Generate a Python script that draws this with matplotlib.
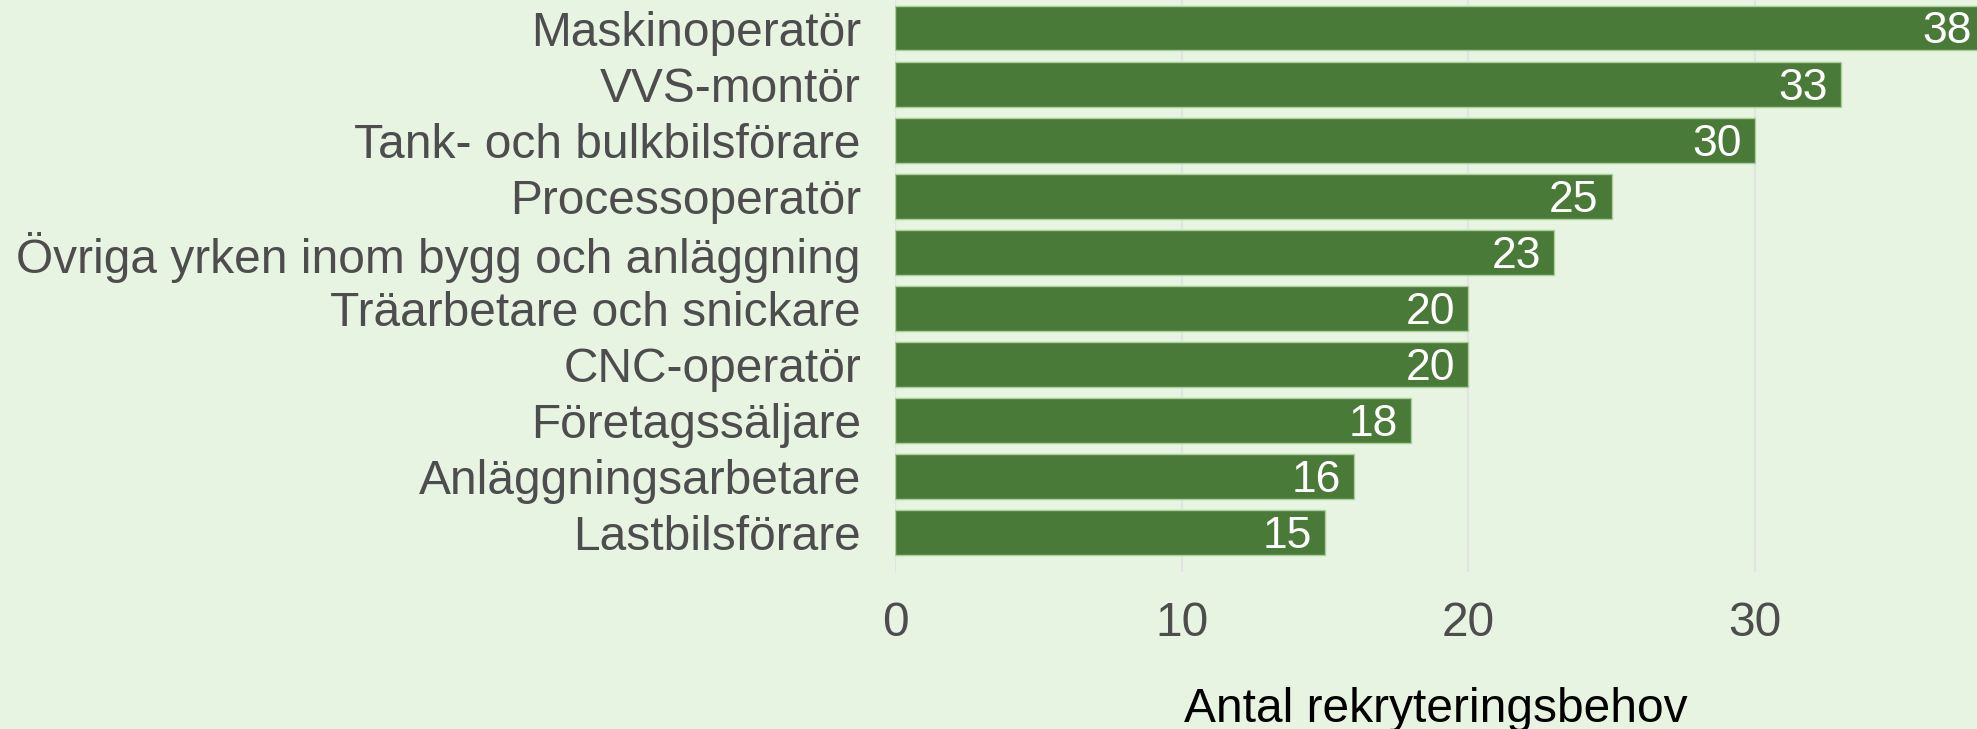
import numpy as np
import matplotlib.pyplot as plt

plt.rcParams['font.family'] = ['Liberation Sans', 'DejaVu Sans']

# data
yrken = ['Maskinoperatör', 'VVS-montör', 'Tank- och bulkbilsförare',
         'Processoperatör', 'Övriga yrken inom bygg och anläggning',
         'Träarbetare och snickare', 'CNC-operatör', 'Företagssäljare',
         'Anläggningsarbetare', 'Lastbilsförare']
antal = [38, 33, 30, 25, 23, 20, 20, 18, 16, 15]
xticks = [0, 10, 20, 30]

bg = '#e8f4e2'
bar_color = '#4a7a37'

fig = plt.figure(figsize=(19.77, 7.29), dpi=100, facecolor=bg)
ax = fig.add_axes([895 / 1977, 1 - 572 / 729, 1 - 895 / 1977, 572 / 729])
ax.set_facecolor(bg)

ypos = np.arange(len(yrken))[::-1]
ax.barh(ypos, antal, height=0.8, color=bar_color,
        edgecolor='#a9cf98', linewidth=1, zorder=3)

# value labels inside the bars
for y, v in zip(ypos, antal):
    ax.text(v - 0.45, y - 0.07, str(v), ha='right', va='center',
            color='white', fontsize=32, zorder=4)

ax.set_xlim(0, 37.75)
ax.set_ylim(-0.7, 9.5)
ax.set_xticks(xticks)
ax.set_yticks(ypos)
ax.set_yticklabels(yrken)
ax.tick_params(axis='both', length=0, labelsize=34.5, colors='#4d4d4d')
ax.tick_params(axis='x', pad=21)
ax.tick_params(axis='y', pad=24.5)
ax.grid(axis='x', color='#e3e3e3', linewidth=1.5, zorder=0)
for s in ax.spines.values():
    s.set_visible(False)

fig.text((895 + 1977) / 2 / 1977, 7 / 729, 'Antal rekryteringsbehov',
         ha='center', va='baseline', fontsize=34.5, color='black')

fig.savefig('out.png', dpi=100, facecolor=bg)
